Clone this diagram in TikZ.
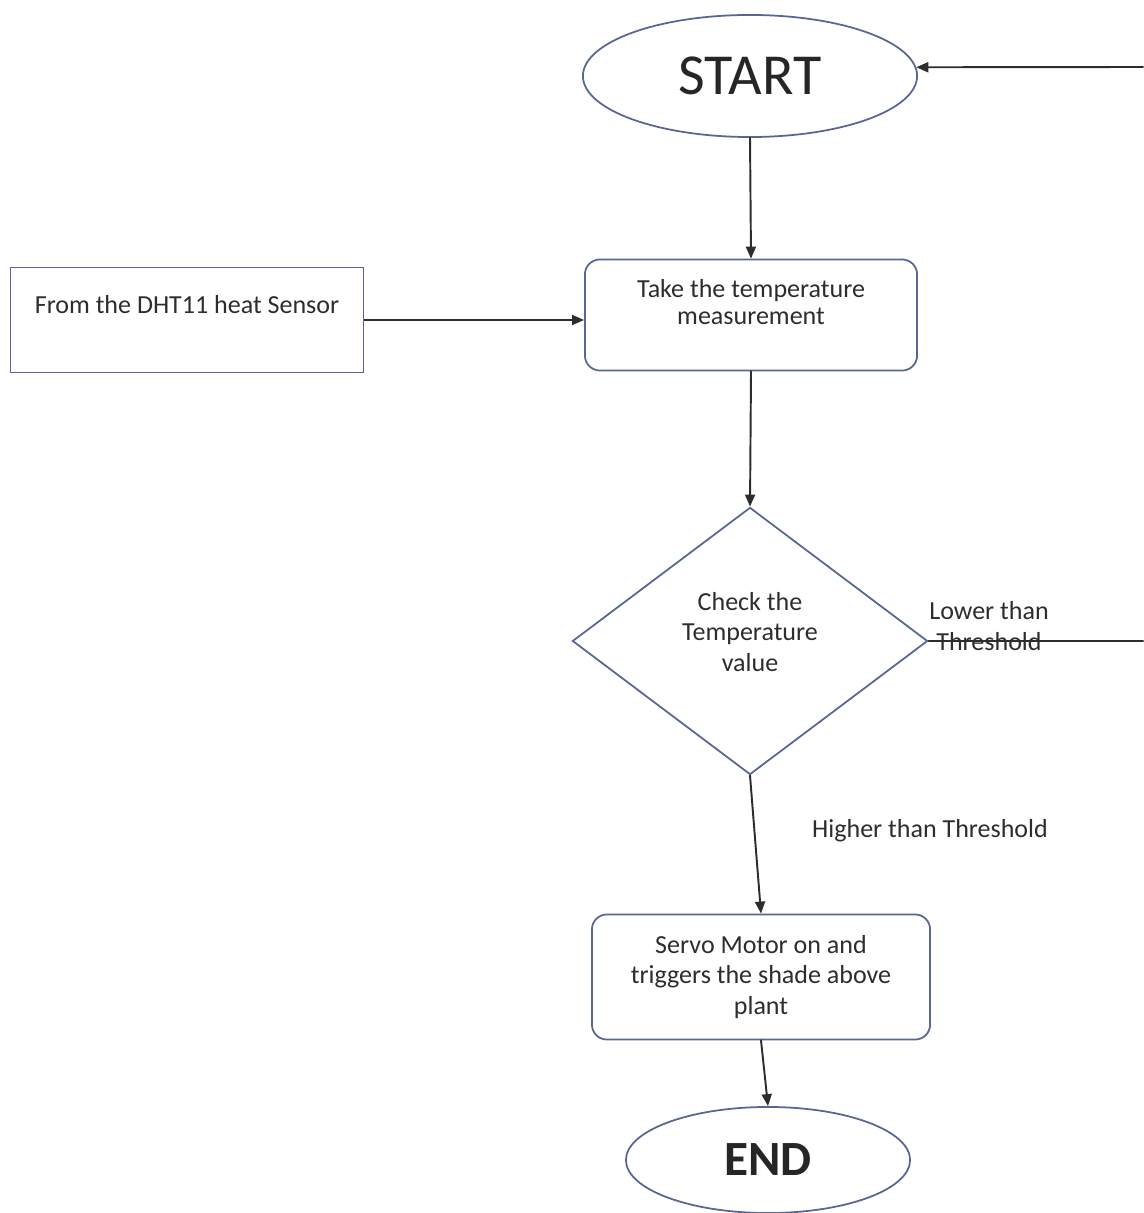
\documentclass[tikz,border=0pt]{standalone}
\usepackage{fontspec}
\setmainfont{Carlito}
\usepackage{tikz}
\usetikzlibrary{arrows.meta,shapes.geometric}
\usepackage{xcolor}
\definecolor{edgeblue}{RGB}{88,102,150}
\definecolor{inkgray}{RGB}{45,45,45}

\tikzset{
  flowbox/.style={draw=edgeblue,line width=0.5pt,rectangle,align=center,text=inkgray,inner sep=0pt},
  roundbox/.style={flowbox,rounded corners=1.5mm},
  endcap/.style={draw=edgeblue,line width=0.5pt,ellipse,inner sep=0pt,text=black!85},
  decide/.style={draw=edgeblue,line width=0.5pt,diamond,inner sep=0pt},
  flowline/.style={draw=inkgray,line width=0.55pt},
  note/.style={text=inkgray,align=center,inner sep=0pt}
}

\begin{document}
\begin{tikzpicture}[x=0.01cm,y=-0.01cm,>={Triangle[length=1.2mm,width=1mm]},font=\fontsize{7.4}{8.6}\selectfont,line cap=round]
\useasboundingbox (0,0) rectangle (1143,1213);
\node[endcap,minimum width=3.34cm,minimum height=1.22cm,font=\fontsize{16.5}{19}\selectfont] (start) at (750,76) {START};
\node[flowbox,minimum width=3.53cm,minimum height=1.05cm] (sensor) at (187,320) {From the DHT11 heat Sensor\\ \mbox{}};
\node[roundbox,minimum width=3.32cm,minimum height=1.11cm,font=\fontsize{7.4}{7.6}\selectfont] (meas) at (751,315) {Take the temperature\\measurement\\ \mbox{}};
\node[decide,minimum width=3.55cm,minimum height=2.67cm,
  label={[note,yshift=2.6pt,font=\fontsize{7.4}{8.6}\selectfont]center:{Check the\\Temperature\\value}}] (check) at (750,641) {};
\node[roundbox,minimum width=3.38cm,minimum height=1.25cm,font=\fontsize{7.4}{8.8}\selectfont] (servo) at (761,977) {Servo Motor on and\\triggers the shade above\\plant};
\node[endcap,minimum width=2.84cm,minimum height=1.06cm,font=\fontsize{14}{16}\bfseries\selectfont] (stop) at (768,1160) {END};
\node[note,font=\fontsize{7.4}{8.6}\selectfont] (lowlbl) at (989,626) {Lower than\\Threshold};
\node[note] (highlbl) at (930,831) {Higher than Threshold};
\coordinate (loopin) at (1143,67);
\coordinate (loopout) at (1143,641);
\draw[flowline,->] (start.south) -- (meas.north);
\draw[flowline,->] (sensor.east) -- (sensor.east -| meas.west);
\draw[flowline,->] (meas.south) -- (check.north);
\draw[flowline,->] (check.south) -- (servo.north);
\draw[flowline,->] (servo.south) -- (stop.north);
\draw[flowline] (check.east) -- (loopout);
\draw[flowline,->] (loopin) -- (start.3);
\end{tikzpicture}
\end{document}
